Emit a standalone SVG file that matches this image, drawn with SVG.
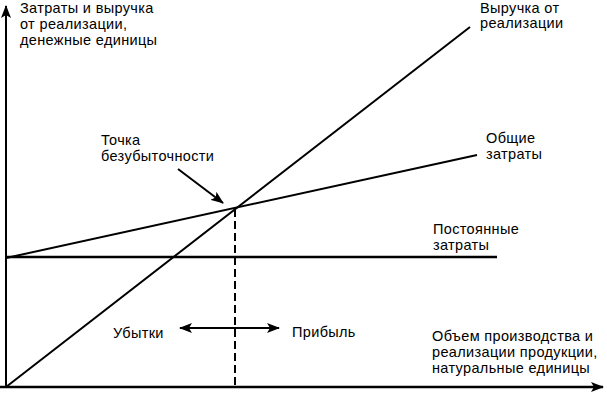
<svg xmlns="http://www.w3.org/2000/svg" width="607" height="404" viewBox="0 0 607 404">
<style>
text{font-family:"Liberation Sans",Arial,sans-serif;font-size:14.5px;letter-spacing:0.35px;fill:#000}
.ln{stroke:#000;stroke-width:2;fill:none}
.ax{stroke:#000;stroke-width:2.5;fill:none}
</style>
<defs>
<marker id="ah" viewBox="0 0 13 10" refX="12" refY="5" markerWidth="13" markerHeight="10" markerUnits="userSpaceOnUse" orient="auto-start-reverse">
<path d="M0,0 L13,5 L0,10 L3,5 Z" fill="#000"/>
</marker>
</defs>
<rect width="607" height="404" fill="#fff"/>
<g id="connectors">
<line id="y-axis" class="ln" x1="6" y1="388" x2="6" y2="6" marker-end="url(#ah)"/>
<line id="x-axis" class="ax" x1="0" y1="387" x2="603" y2="387" marker-end="url(#ah)"/>
<line id="revenue" class="ln" x1="6" y1="387" x2="470" y2="27"/>
<line id="total-costs" class="ln" x1="6" y1="258" x2="477" y2="155"/>
<line id="fixed-costs" class="ax" x1="6" y1="257" x2="497" y2="257"/>
<line id="breakeven-drop" stroke="#000" stroke-width="2" stroke-dasharray="8,4" x1="235" y1="209" x2="235" y2="386"/>
<line id="breakeven-pointer" class="ln" x1="178" y1="169" x2="223" y2="203" marker-end="url(#ah)"/>
<line id="loss-profit" class="ln" x1="180" y1="328" x2="279" y2="328" marker-start="url(#ah)" marker-end="url(#ah)"/>
</g>
<g id="y-label">
<text x="20" y="13">Затраты и выручка</text>
<text x="20" y="29">от реализации,</text>
<text x="20" y="45">денежные единицы</text>
</g>
<g id="revenue-label">
<text x="480" y="13">Выручка от</text>
<text x="480" y="28">реализации</text>
</g>
<g id="total-costs-label">
<text x="486" y="143">Общие</text>
<text x="486" y="159">затраты</text>
</g>
<g id="fixed-costs-label">
<text x="433" y="234">Постоянные</text>
<text x="433" y="250">затраты</text>
</g>
<g id="breakeven-label">
<text x="101" y="145">Точка</text>
<text x="101" y="161">безубыточности</text>
</g>
<g id="loss-label">
<text x="113" y="338">Убытки</text>
</g>
<g id="profit-label">
<text x="292" y="337">Прибыль</text>
</g>
<g id="x-label">
<text x="432" y="341">Объем производства и</text>
<text x="432" y="357">реализации продукции,</text>
<text x="432" y="373">натуральные единицы</text>
</g>
</svg>
